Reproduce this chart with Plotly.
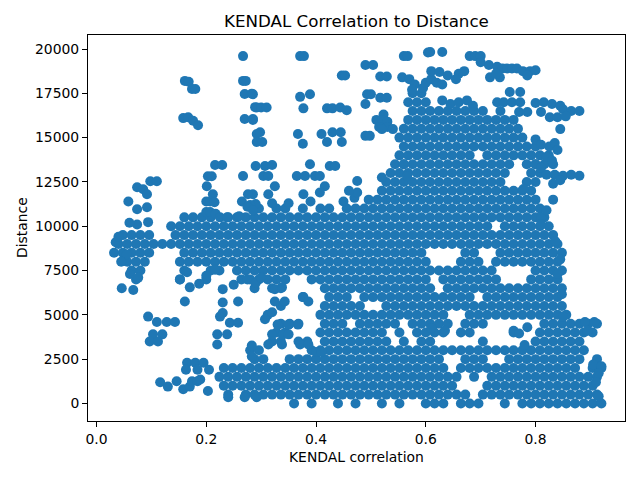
import plotly.graph_objects as go

# rows of the dense areas: (distance, [kendal correlation values...])
rows_top = [
    (17500, [0.576, 0.592]),
    (17000, [0.568, 0.584, 0.600]),
    (16500, [0.576, 0.592, 0.608, 0.624, 0.640, 0.656, 0.672, 0.688, 0.704, 0.736]),
    (16000, [0.568, 0.584, 0.600, 0.616, 0.632, 0.648, 0.664, 0.680, 0.696, 0.712, 0.728, 0.744, 0.760]),
]

rows_upper = [
    (15500, [0.560, 0.576, 0.592, 0.608, 0.624, 0.640, 0.656, 0.672, 0.688, 0.704, 0.720, 0.736, 0.752, 0.768]),
    (15000, [0.552, 0.568, 0.584, 0.600, 0.616, 0.632, 0.648, 0.664, 0.680, 0.696, 0.712, 0.728, 0.744, 0.760, 0.776]),
    (14500, [0.560, 0.576, 0.592, 0.608, 0.624, 0.640, 0.656, 0.672, 0.688, 0.704, 0.720, 0.736, 0.752, 0.768, 0.784, 0.800]),
    (14000, [0.552, 0.568, 0.584, 0.600, 0.616, 0.632, 0.648, 0.664, 0.680, 0.712, 0.728, 0.744, 0.760, 0.776, 0.792, 0.808, 0.824]),
    (13500, [0.544, 0.560, 0.576, 0.592, 0.608, 0.624, 0.640, 0.656, 0.672, 0.688, 0.704, 0.720, 0.736, 0.752, 0.784, 0.800, 0.816, 0.832]),
    (13000, [0.536, 0.552, 0.568, 0.584, 0.600, 0.616, 0.632, 0.648, 0.664, 0.680, 0.696, 0.712, 0.728, 0.744, 0.792, 0.808]),
    (12500, [0.528, 0.544, 0.560, 0.576, 0.592, 0.608, 0.624, 0.640, 0.656, 0.672, 0.688, 0.704, 0.720, 0.736, 0.784, 0.800]),
    (12000, [0.520, 0.536, 0.552, 0.568, 0.584, 0.600, 0.616, 0.632, 0.648, 0.664, 0.680, 0.696, 0.712, 0.728, 0.744, 0.760, 0.776, 0.792]),
    (11500, [0.496, 0.512, 0.528, 0.544, 0.560, 0.576, 0.592, 0.608, 0.624, 0.640, 0.656, 0.672, 0.688, 0.704, 0.720, 0.736, 0.752, 0.768, 0.784, 0.800]),
]

rows_mid = [
    (11000, [0.296, 0.328, 0.344, 0.376, 0.408, 0.424, 0.456, 0.472, 0.488, 0.504, 0.520, 0.536, 0.552, 0.568, 0.584, 0.600,
             0.616, 0.632, 0.648, 0.664, 0.680, 0.696, 0.712, 0.728, 0.744, 0.760, 0.776, 0.792, 0.808]),
    (10500, [0.160, 0.176, 0.192, 0.208, 0.240, 0.256, 0.272, 0.288, 0.304, 0.320, 0.336, 0.352, 0.368, 0.384, 0.400, 0.416,
             0.432, 0.448, 0.464, 0.480, 0.496, 0.512, 0.528, 0.544, 0.560, 0.576, 0.592, 0.608, 0.624, 0.640, 0.656, 0.672,
             0.688, 0.704, 0.720, 0.736, 0.752, 0.768, 0.784, 0.800, 0.816]),
    (10000, [0.136, 0.152, 0.168, 0.184, 0.200, 0.216, 0.232, 0.248, 0.264, 0.280, 0.296, 0.312, 0.328, 0.344, 0.360, 0.376,
             0.392, 0.408, 0.424, 0.440, 0.456, 0.472, 0.488, 0.504, 0.520, 0.536, 0.552, 0.568, 0.584, 0.600, 0.616, 0.632,
             0.648, 0.664, 0.680, 0.696, 0.712, 0.744, 0.760, 0.776, 0.792, 0.808, 0.824]),
    (9500, [0.048, 0.064, 0.080, 0.096, 0.144, 0.160, 0.176, 0.192, 0.208, 0.224, 0.240, 0.256, 0.272, 0.288, 0.304, 0.320,
            0.336, 0.352, 0.368, 0.384, 0.400, 0.416, 0.432, 0.448, 0.464, 0.480, 0.496, 0.512, 0.528, 0.544, 0.560, 0.576,
            0.592, 0.608, 0.624, 0.640, 0.656, 0.672, 0.688, 0.704, 0.720, 0.736, 0.752, 0.768, 0.784, 0.800, 0.816, 0.832]),
    (9000, [0.040, 0.056, 0.072, 0.088, 0.104, 0.120, 0.136, 0.152, 0.168, 0.184, 0.200, 0.216, 0.232, 0.248, 0.264, 0.280,
            0.296, 0.312, 0.328, 0.344, 0.360, 0.376, 0.392, 0.408, 0.424, 0.440, 0.456, 0.472, 0.488, 0.504, 0.520, 0.536,
            0.552, 0.568, 0.584, 0.600, 0.616, 0.632, 0.648, 0.664, 0.680, 0.696, 0.712, 0.728, 0.744, 0.760, 0.776, 0.792,
            0.808, 0.824, 0.840]),
    (8500, [0.032, 0.048, 0.064, 0.080, 0.096, 0.160, 0.176, 0.192, 0.208, 0.224, 0.240, 0.256, 0.272, 0.288, 0.304, 0.320,
            0.336, 0.352, 0.368, 0.384, 0.400, 0.416, 0.432, 0.448, 0.464, 0.480, 0.496, 0.512, 0.528, 0.544, 0.560, 0.576,
            0.592, 0.672, 0.688, 0.736, 0.752, 0.768, 0.784, 0.800, 0.816, 0.832, 0.848]),
    (8000, [0.056, 0.072, 0.088, 0.152, 0.168, 0.184, 0.200, 0.216, 0.232, 0.248, 0.264, 0.280, 0.296, 0.312, 0.328, 0.344,
            0.360, 0.376, 0.392, 0.408, 0.424, 0.440, 0.456, 0.472, 0.488, 0.504, 0.520, 0.536, 0.552, 0.568, 0.584, 0.600,
            0.664, 0.680, 0.696, 0.728, 0.744, 0.760, 0.776, 0.792, 0.808, 0.824, 0.840]),
    (7500, [0.064, 0.080, 0.160, 0.208, 0.224, 0.256, 0.272, 0.288, 0.304, 0.320, 0.336, 0.352, 0.368, 0.384, 0.400, 0.416,
            0.432, 0.448, 0.464, 0.480, 0.496, 0.512, 0.528, 0.544, 0.560, 0.576, 0.592, 0.608, 0.624, 0.640, 0.656, 0.672,
            0.688, 0.704, 0.720, 0.800, 0.816, 0.832, 0.848]),
    (7000, [0.072, 0.152, 0.200, 0.264, 0.280, 0.296, 0.312, 0.328, 0.344, 0.392, 0.408, 0.424, 0.440, 0.456, 0.472, 0.488,
            0.504, 0.520, 0.536, 0.552, 0.568, 0.584, 0.600, 0.632, 0.648, 0.664, 0.680, 0.696, 0.712, 0.728, 0.792, 0.808,
            0.824, 0.840]),
    (6500, [0.288, 0.320, 0.336, 0.416, 0.432, 0.448, 0.464, 0.480, 0.496, 0.512, 0.528, 0.544, 0.560, 0.576, 0.592, 0.608,
            0.640, 0.656, 0.672, 0.688, 0.704, 0.720, 0.736, 0.752, 0.768, 0.784, 0.800, 0.816, 0.832, 0.848]),
    (6000, [0.376, 0.424, 0.440, 0.456, 0.488, 0.504, 0.520, 0.536, 0.552, 0.568, 0.584, 0.600, 0.616, 0.632, 0.648, 0.664,
            0.680, 0.712, 0.728, 0.744, 0.760, 0.776, 0.792, 0.808, 0.824, 0.840]),
    (5500, [0.336, 0.416, 0.432, 0.448, 0.464, 0.480, 0.528, 0.544, 0.560, 0.576, 0.592, 0.608, 0.624, 0.640, 0.656, 0.672,
            0.688, 0.704, 0.720, 0.736, 0.752, 0.768, 0.784, 0.800, 0.816, 0.832, 0.848]),
    (5000, [0.312, 0.408, 0.424, 0.440, 0.456, 0.472, 0.488, 0.504, 0.520, 0.536, 0.552, 0.568, 0.584, 0.600, 0.616, 0.632,
            0.680, 0.696, 0.712, 0.728, 0.744, 0.760, 0.776, 0.792, 0.808, 0.824, 0.840, 0.856]),
]

rows_low = [
    (4500, [0.336, 0.352, 0.368, 0.416, 0.432, 0.448, 0.480, 0.496, 0.512, 0.528, 0.544, 0.576, 0.592, 0.608, 0.624, 0.640,
            0.672, 0.688, 0.704, 0.816, 0.832, 0.848, 0.864, 0.880, 0.896, 0.912]),
    (4000, [0.328, 0.344, 0.408, 0.424, 0.440, 0.456, 0.472, 0.488, 0.504, 0.520, 0.552, 0.584, 0.600, 0.616, 0.632, 0.664,
            0.680, 0.760, 0.808, 0.824, 0.840, 0.856, 0.872, 0.888, 0.904]),
    (3500, [0.320, 0.336, 0.368, 0.384, 0.416, 0.432, 0.448, 0.464, 0.480, 0.496, 0.512, 0.528, 0.560, 0.592, 0.608, 0.704,
            0.800, 0.816, 0.832, 0.848, 0.864, 0.880]),
    (3000, [0.280, 0.296, 0.392, 0.408, 0.424, 0.440, 0.456, 0.472, 0.488, 0.504, 0.520, 0.536, 0.552, 0.568, 0.584, 0.600,
            0.616, 0.632, 0.648, 0.664, 0.680, 0.696, 0.712, 0.728, 0.744, 0.760, 0.776, 0.792, 0.808, 0.824, 0.840, 0.856,
            0.872, 0.888]),
    (2500, [0.288, 0.304, 0.352, 0.368, 0.384, 0.400, 0.416, 0.432, 0.448, 0.464, 0.480, 0.496, 0.512, 0.528, 0.544, 0.560,
            0.576, 0.592, 0.608, 0.624, 0.672, 0.688, 0.704, 0.752, 0.768, 0.784, 0.800, 0.816, 0.832, 0.848, 0.864, 0.880,
            0.912]),
    (2000, [0.232, 0.248, 0.264, 0.280, 0.296, 0.312, 0.328, 0.344, 0.360, 0.376, 0.392, 0.408, 0.424, 0.440, 0.456, 0.472,
            0.488, 0.504, 0.520, 0.536, 0.552, 0.568, 0.584, 0.600, 0.616, 0.632, 0.664, 0.680, 0.696, 0.712, 0.728, 0.744,
            0.760, 0.776, 0.792, 0.808, 0.824, 0.840, 0.856, 0.872, 0.904, 0.920]),
    (1500, [0.224, 0.240, 0.256, 0.272, 0.288, 0.304, 0.320, 0.336, 0.352, 0.368, 0.384, 0.400, 0.416, 0.432, 0.448, 0.464,
            0.480, 0.496, 0.512, 0.528, 0.544, 0.560, 0.576, 0.592, 0.608, 0.624, 0.640, 0.656, 0.688, 0.720, 0.736, 0.752,
            0.768, 0.784, 0.800, 0.816, 0.832, 0.848, 0.864, 0.880, 0.896, 0.912]),
    (1000, [0.232, 0.248, 0.264, 0.280, 0.296, 0.312, 0.328, 0.344, 0.360, 0.376, 0.392, 0.408, 0.424, 0.440, 0.456, 0.472,
            0.488, 0.504, 0.520, 0.536, 0.552, 0.568, 0.584, 0.600, 0.616, 0.632, 0.648, 0.712, 0.728, 0.744, 0.760, 0.776,
            0.792, 0.808, 0.824, 0.840, 0.856, 0.872, 0.888, 0.904]),
    (500, [0.240, 0.272, 0.288, 0.304, 0.320, 0.336, 0.352, 0.368, 0.384, 0.400, 0.416, 0.432, 0.448, 0.464, 0.480, 0.496,
           0.512, 0.528, 0.544, 0.560, 0.576, 0.592, 0.608, 0.624, 0.640, 0.656, 0.672, 0.704, 0.720, 0.736, 0.752, 0.768,
           0.784, 0.800, 0.816, 0.832, 0.848, 0.864, 0.880, 0.896, 0.912]),
    (0, [0.360, 0.392, 0.440, 0.472, 0.520, 0.552, 0.600, 0.616, 0.632, 0.664, 0.680, 0.696, 0.744, 0.776, 0.792, 0.808,
         0.824, 0.840, 0.856, 0.872, 0.888, 0.904, 0.920]),
]

# scattered points: (kendal correlation, distance)
top_points = [
    (0.267, 19600), (0.161, 18200), (0.168, 18150), (0.174, 17740), (0.180, 17740), (0.158, 16100), (0.167, 16150),
    (0.176, 15950), (0.185, 15700), (0.267, 18200), (0.272, 18200), (0.270, 17460), (0.283, 17480), (0.289, 16720),
    (0.270, 16050), (0.285, 16000), (0.292, 15200), (0.292, 14750),
    (0.371, 19600), (0.378, 19600), (0.560, 19600), (0.567, 19600), (0.604, 19800), (0.490, 19100), (0.504, 19100),
    (0.447, 18500), (0.453, 18500), (0.517, 18450), (0.529, 18450), (0.557, 18400), (0.570, 18300), (0.580, 18000),
    (0.595, 17800), (0.600, 18100), (0.610, 18300), (0.575, 17700),
    (0.285, 17450), (0.371, 17300), (0.389, 17450), (0.493, 17450), (0.500, 17450), (0.517, 17250), (0.529, 17250),
    (0.490, 16900), (0.377, 16650), (0.292, 16700), (0.300, 16700), (0.310, 16700), (0.420, 16650), (0.430, 16650),
    (0.444, 16700), (0.456, 16550), (0.523, 16300), (0.510, 16000), (0.520, 16000), (0.530, 15900), (0.515, 15600),
    (0.530, 15600), (0.285, 16050), (0.298, 15300), (0.302, 14750), (0.367, 15200), (0.376, 14650), (0.410, 15200),
    (0.420, 14750), (0.430, 15300), (0.445, 15300), (0.447, 14750), (0.490, 15100), (0.498, 15100), (0.520, 15480),
    (0.540, 15480),
    (0.608, 19830), (0.630, 19830), (0.680, 19600), (0.690, 19600), (0.700, 19600), (0.700, 19250), (0.715, 19100),
    (0.730, 19000), (0.740, 18900), (0.748, 18900), (0.757, 18900), (0.766, 18900), (0.777, 18750), (0.790, 18750),
    (0.800, 18800), (0.785, 18500), (0.717, 18400), (0.735, 18400), (0.728, 18600), (0.610, 18750), (0.625, 18700),
    (0.640, 18500), (0.660, 18600), (0.670, 18750), (0.655, 18300), (0.620, 18100), (0.630, 18000),
    (0.753, 17570), (0.772, 17570), (0.730, 17000), (0.742, 17000), (0.757, 17000), (0.772, 17000), (0.630, 17100),
    (0.645, 16900), (0.660, 17000), (0.675, 17100), (0.686, 16800), (0.800, 16950), (0.815, 17000), (0.830, 16900),
    (0.845, 16800), (0.850, 16600), (0.770, 16450), (0.785, 16450), (0.810, 16450), (0.865, 16500), (0.880, 16500),
    (0.826, 16150), (0.840, 16150), (0.855, 16200), (0.845, 15480),
]

middle_points = [
    (0.290, 13400), (0.307, 13400), (0.320, 13450), (0.304, 12830), (0.313, 12830), (0.389, 13500), (0.365, 12830),
    (0.380, 12830), (0.398, 12830), (0.407, 12830), (0.425, 13400), (0.435, 13400), (0.475, 12550), (0.520, 12750),
    (0.560, 13500), (0.566, 12830), (0.285, 11800), (0.313, 11800), (0.325, 12260), (0.320, 11300), (0.290, 11250),
    (0.280, 11200), (0.377, 11800), (0.416, 12260), (0.407, 11900), (0.470, 11600), (0.475, 11900), (0.450, 11400),
    (0.460, 12000), (0.350, 11300), (0.390, 11400),
    (0.800, 14900), (0.810, 14600), (0.825, 14500), (0.835, 14700), (0.840, 14300), (0.820, 13900), (0.830, 13700),
    (0.800, 13500), (0.810, 13300), (0.820, 12900), (0.835, 12900), (0.850, 12850), (0.865, 12900), (0.880, 12850),
    (0.832, 12400), (0.845, 12600), (0.778, 12100), (0.832, 11500), (0.810, 10500), (0.820, 10900),
    (0.810, 10100), (0.836, 9150), (0.845, 8130), (0.840, 7300), (0.848, 6160), (0.850, 4900),
]

left_points = [
    (0.098, 12540), (0.110, 12540), (0.074, 12200), (0.085, 12090), (0.092, 11800), (0.058, 11400), (0.074, 10960),
    (0.092, 11070), (0.094, 10230), (0.074, 10100), (0.060, 10200), (0.216, 13450), (0.229, 13450), (0.203, 12820),
    (0.210, 12820), (0.201, 12260), (0.212, 11800), (0.200, 11400), (0.207, 11400), (0.215, 11350), (0.200, 10800),
    (0.207, 10800), (0.217, 10700), (0.225, 10500), (0.267, 12830), (0.276, 11800), (0.265, 11400), (0.275, 11100),
    (0.285, 10900), (0.238, 10500), (0.260, 10560),
    (0.035, 9100), (0.040, 9400), (0.046, 6500), (0.067, 6400), (0.061, 7300), (0.076, 7100), (0.055, 8400),
    (0.045, 8000), (0.094, 4900), (0.110, 4600), (0.128, 4600), (0.143, 4600), (0.103, 3900), (0.120, 3900),
    (0.097, 3500), (0.112, 3500),
    (0.152, 7000), (0.165, 7400), (0.170, 6550), (0.187, 6750), (0.200, 7200), (0.216, 7550), (0.161, 5750),
    (0.230, 6450), (0.250, 6700), (0.258, 5750), (0.230, 5700), (0.225, 4900), (0.230, 5100), (0.243, 4550),
    (0.258, 4550), (0.220, 3900), (0.238, 3900), (0.220, 3330), (0.283, 3270), (0.283, 2650), (0.275, 7000),
    (0.290, 6800), (0.300, 7100),
    (0.325, 6450), (0.338, 6550), (0.325, 5750), (0.343, 5750), (0.307, 4750), (0.320, 5150), (0.330, 4450),
    (0.350, 4450), (0.367, 4450), (0.320, 3900), (0.340, 3900), (0.350, 3900), (0.313, 3330), (0.338, 3330),
    (0.377, 6000), (0.386, 5750), (0.371, 3330), (0.386, 3330), (0.400, 2900), (0.410, 2900),
]

lower_points = [
    (0.116, 1200), (0.130, 950), (0.146, 1250), (0.158, 800), (0.170, 950), (0.174, 1250), (0.184, 1250),
    (0.189, 1350), (0.203, 700), (0.165, 2300), (0.180, 2300), (0.195, 2300), (0.163, 1900), (0.184, 1900),
    (0.205, 1900), (0.240, 350), (0.270, 350), (0.292, 350),
    (0.890, 4600), (0.907, 4600), (0.895, 4100), (0.905, 2200), (0.920, 2100), (0.915, 1700), (0.910, 1200),
    (0.915, 400), (0.610, 4250), (0.635, 4100), (0.760, 4100), (0.770, 3950), (0.785, 4300), (0.780, 3300),
]

corr = []
dist = []
for rows in (rows_top, rows_upper, rows_mid, rows_low):
    for d, cs in rows:
        corr += cs
        dist += [d] * len(cs)
for pts in (top_points, middle_points, left_points, lower_points):
    for c, d in pts:
        corr.append(c)
        dist.append(d)

fig = go.Figure()
fig.add_trace(go.Scatter(
    x=corr, y=dist, mode='markers',
    marker=dict(color='#1f77b4', size=10, line=dict(width=0)),
    hoverinfo='skip', showlegend=False))

axis_style = dict(showgrid=False, zeroline=False, showline=True, linecolor='black', linewidth=1,
                  mirror=True, ticks='outside', ticklen=5, tickwidth=1, tickcolor='black',
                  tickfont=dict(size=13.9, color='black'))

# the page puts the plot 8px in from the top-left corner, so the figure is 8px smaller
fig.update_layout(
    width=632, height=472,
    margin=dict(l=80, r=15, t=27, b=59),
    paper_bgcolor='white', plot_bgcolor='white',
    font=dict(family='DejaVu Sans', color='black'),
    xaxis=dict(range=[-0.0155, 0.963], tickvals=[0.0, 0.2, 0.4, 0.6, 0.8],
               ticktext=['0.0', '0.2', '0.4', '0.6', '0.8'], **axis_style),
    yaxis=dict(range=[-990, 20790], tickvals=[0, 2500, 5000, 7500, 10000, 12500, 15000, 17500, 20000],
               ticktext=['0', '2500', '5000', '7500', '10000', '12500', '15000', '17500', '20000'], **axis_style),
    annotations=[
        dict(text='KENDAL Correlation to Distance', xref='paper', yref='paper', x=0.5, y=1,
             yshift=14, yanchor='middle', showarrow=False, font=dict(size=16.7)),
        dict(text='KENDAL correlation', xref='paper', yref='paper', x=0.5, y=0,
             yshift=-36, yanchor='middle', showarrow=False, font=dict(size=13.9)),
        dict(text='Distance', xref='paper', yref='paper', x=0, y=0.5, xshift=-66,
             xanchor='center', textangle=-90, showarrow=False, font=dict(size=13.9)),
    ],
)

fig.write_html("out.html")
